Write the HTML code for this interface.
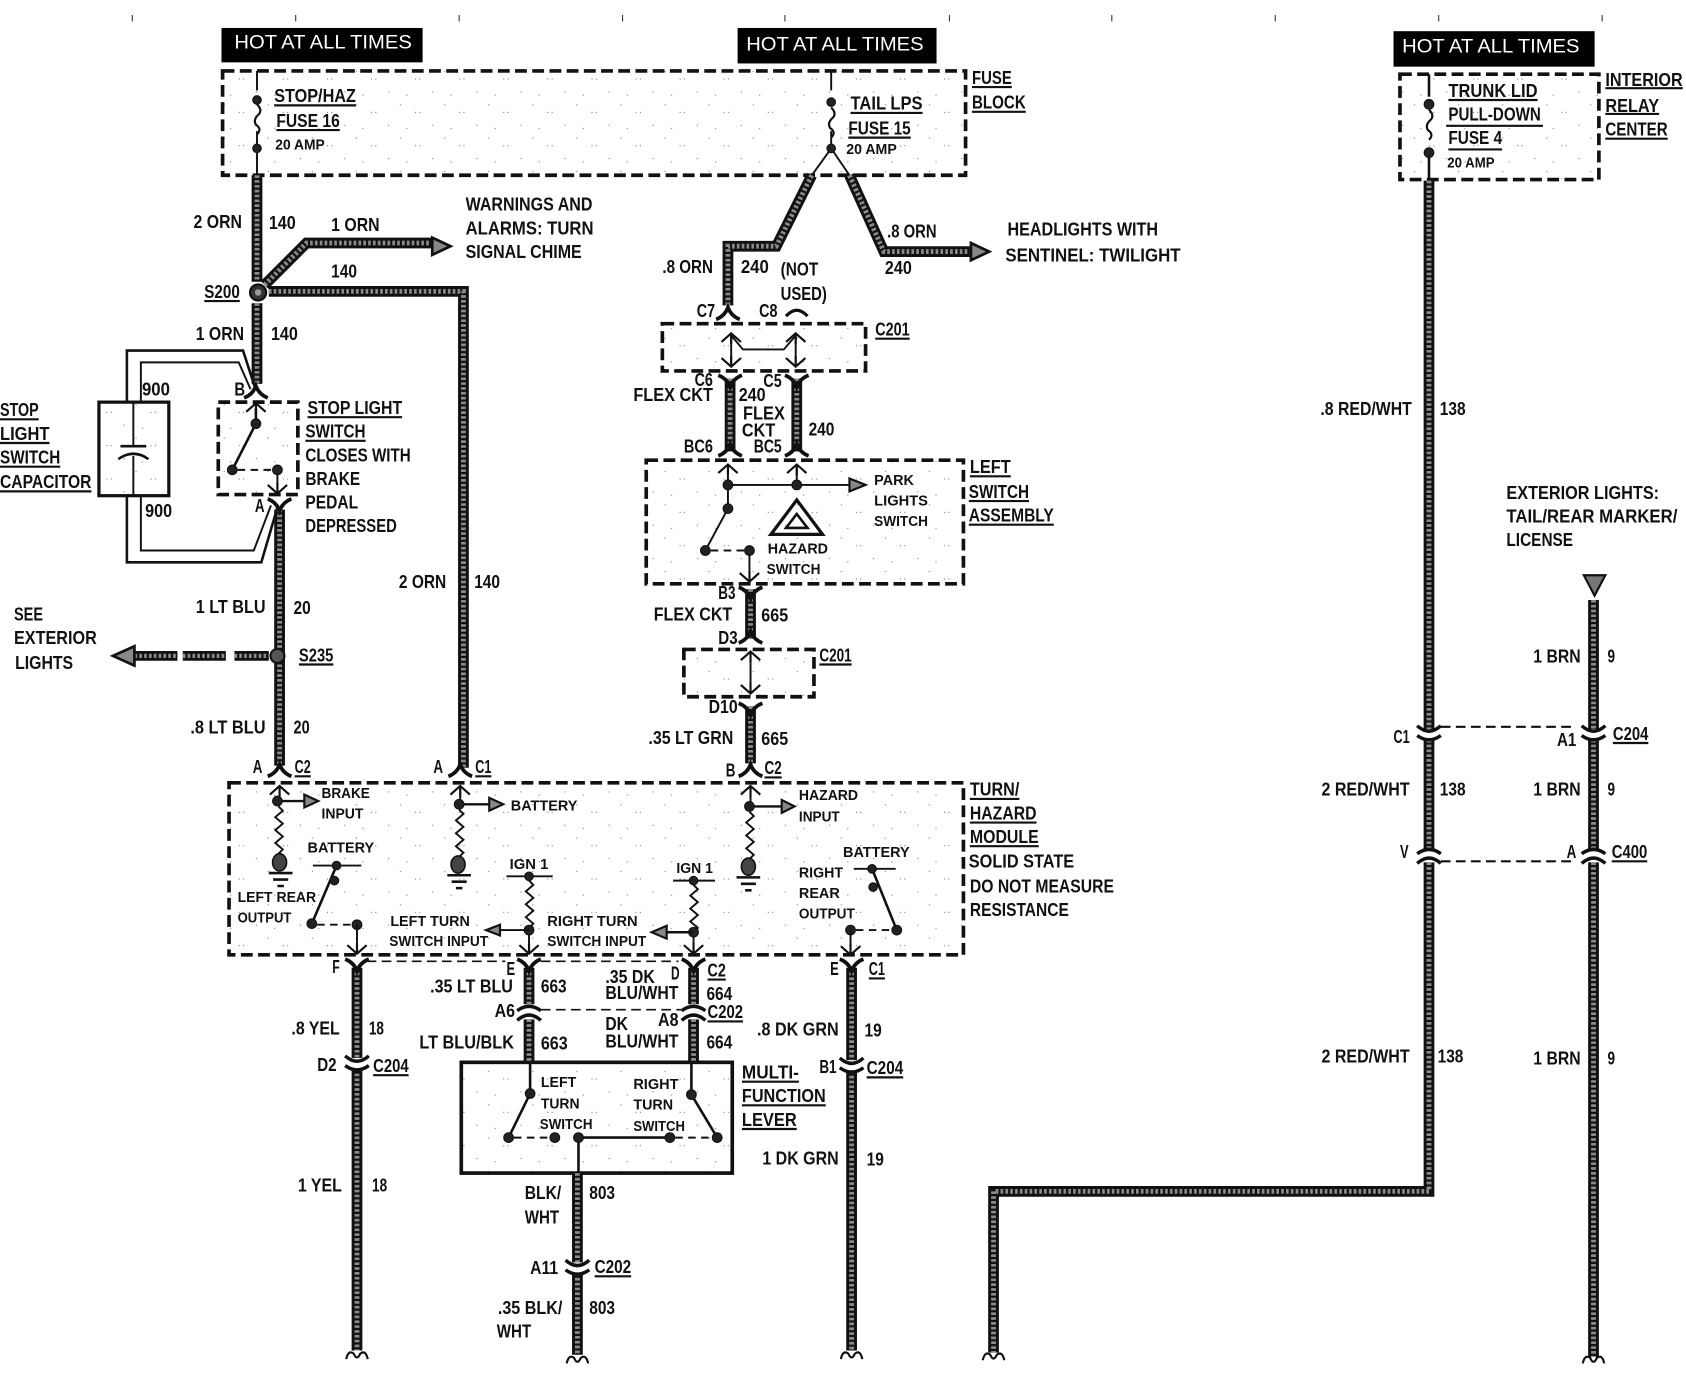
<!DOCTYPE html>
<html><head><meta charset="utf-8"><title>Turn hazard wiring diagram</title>
<style>
html,body{margin:0;padding:0;background:#fff;width:1686px;height:1392px;overflow:hidden}
svg{display:block}
text{font-family:"Liberation Sans",sans-serif;font-weight:bold;font-size:17px;fill:#111}
text.s{font-size:14px}
text.h{font-weight:normal;fill:#fff;font-size:18px}
.t{fill:none;stroke:#111;stroke-width:1.8}
.d{fill:none;stroke:#111;stroke-width:3.4;stroke-dasharray:11 5}
.k{fill:none;stroke:#111;stroke-width:2.4}
.n{fill:none;stroke:#111;stroke-width:1.5;stroke-dasharray:9 5}
.u{fill:none;stroke:#111;stroke-width:2}
.dot{fill:#222;stroke:#111;stroke-width:1}
</style></head><body>
<svg xmlns="http://www.w3.org/2000/svg" width="1686" height="1392" viewBox="0 0 1568 1294.6">
<defs>
<pattern id="sp" width="41" height="31" patternUnits="userSpaceOnUse">
<rect x="3" y="4" width="1" height="1" fill="#777"/><rect x="17" y="11" width="1" height="1" fill="#777"/><rect x="21" y="11" width="1" height="1" fill="#777"/><rect x="33" y="23" width="1" height="1" fill="#777"/><rect x="9" y="26" width="1" height="1" fill="#777"/>
</pattern>
<g id="W" fill="none">
<path d="M239 163V262"/><path d="M246 265L285 226H402"/><path d="M250 271H431V714"/><path d="M239 282V357"/>
<path d="M260 474V712"/>
<path d="M755 163L722 229H677V284"/><path d="M790 163L822 234H902"/>
<path d="M679 352V420"/><path d="M741 352V420"/><path d="M698 548V594"/><path d="M698 657V710"/>
<path d="M332 900V984"/><path d="M332 994V1256"/><path d="M492 900V934"/><path d="M492 948V988"/><path d="M645 900V934"/><path d="M645 948V988"/>
<path d="M792 900V986"/><path d="M792 996V1256"/><path d="M537 1091V1174"/><path d="M537 1184V1260"/>
<path d="M1329 168V678"/><path d="M1329 688V790"/><path d="M1329 802V1108H924V1258"/>
<path d="M1482 558V678"/><path d="M1482 688V790"/><path d="M1482 802V1262"/>
</g>
<path id="fa" d="M-11 6Q-3 3 0-5Q3 3 11 6" fill="none" stroke="#111" stroke-width="3.5"/>
<path id="fy" d="M-11-6Q-3-3 0 5Q3-3 11-6" fill="none" stroke="#111" stroke-width="3.5"/>
<path id="au" d="M-9 8L0 0L9 8M0 0V10" fill="none" stroke="#111" stroke-width="2"/>
<path id="ad" d="M-9-8L0 0L9-8M0 0V-10" fill="none" stroke="#111" stroke-width="2"/>
<g id="cd" fill="none" stroke="#111" stroke-width="3.2"><path d="M-11-7Q0 3 11-7"/><path d="M-11 2Q0 10 11 2"/></g>
<g id="cu" fill="none" stroke="#111" stroke-width="3.2"><path d="M-11 7Q0-3 11 7"/><path d="M-11-2Q0-10 11-2"/></g>
<path id="end" d="M-10 6Q-8-3-3 1Q0 8 3 1Q8-3 10 6" fill="none" stroke="#111" stroke-width="2"/>
<path id="wig" d="M0 0l4 4l-7 6l7 6l-7 6l7 6l-7 6l7 6l-4 4" fill="none" stroke="#111" stroke-width="1.8"/>
<path id="fz" d="M0 0q5 5 2 9q-6 5-3 10q6 4 1 9" fill="none" stroke="#111" stroke-width="2"/>
<g id="gnd" stroke="#111" stroke-width="2.4"><path d="M-11 0H11M-7 6H7M-3 12H3"/></g>
</defs>

<rect width="1568" height="1295" fill="#fff"/>
<path d="M123 14v6M275 14v6M427 14v6M579 14v6M730 14v6M883 14v6M1034 14v6M1186 14v6M1338 14v6M1490 14v6" stroke="#333" stroke-width="1"/>

<rect x="206" y="26" width="187" height="32" fill="#000"/>
<rect x="686" y="26" width="185" height="33" fill="#000"/>
<rect x="1296" y="29" width="187" height="33" fill="#000"/>
<text class="h" x="218" y="45" textLength="165" lengthAdjust="spacingAndGlyphs">HOT AT ALL TIMES</text>
<text class="h" x="694" y="47" textLength="165" lengthAdjust="spacingAndGlyphs">HOT AT ALL TIMES</text>
<text class="h" x="1304" y="49" textLength="165" lengthAdjust="spacingAndGlyphs">HOT AT ALL TIMES</text>

<!-- dashed boxes -->
<rect x="207" y="66" width="691" height="97" class="d" style="fill:url(#sp)"/>
<rect x="1302" y="69" width="185" height="98" class="d" style="fill:url(#sp)"/>
<rect x="203" y="374" width="74" height="86" class="d" style="fill:url(#sp)"/>
<rect x="616" y="301" width="189" height="44" class="d" style="fill:url(#sp)"/>
<rect x="601" y="428" width="295" height="115" class="d" style="fill:url(#sp)"/>
<rect x="636" y="604" width="121" height="44" class="d" style="fill:url(#sp)"/>
<rect x="213" y="728" width="683" height="160" class="d" style="fill:url(#sp)"/>
<rect x="429" y="988" width="252" height="103" fill="url(#sp)" stroke="#111" stroke-width="3.4"/>
<rect x="92" y="374" width="65" height="87" fill="url(#sp)" stroke="#111" stroke-width="3"/>

<!-- wires -->
<use href="#W" stroke="#111" stroke-width="10"/>
<use href="#W" stroke="#8a8a8a" stroke-width="4.5" stroke-dasharray="2.5 2"/>

<!-- dashed wire to S235 and arrows -->
<path d="M125 610H165M170 610H210M218 610H250" stroke="#111" stroke-width="9" fill="none"/>
<path d="M125 610H165M170 610H210M218 610H250" stroke="#8a8a8a" stroke-width="4" stroke-dasharray="2.5 2" fill="none"/>
<path d="M105 610L125 601V619Z" fill="#888" stroke="#111" stroke-width="2.5"/>
<path d="M419 229L402 221V237Z" fill="#888" stroke="#111" stroke-width="2.5"/>
<path d="M920 234L903 226V242Z" fill="#888" stroke="#111" stroke-width="2.5"/>
<path d="M1473 535H1493L1483 554Z" fill="#777" stroke="#111" stroke-width="2"/>

<!-- fuses -->
<path class="t" d="M239 66V84M239 122V163"/><use href="#fz" x="239" y="97"/>
<circle class="dot" cx="239" cy="93" r="4"/><circle class="dot" cx="239" cy="138" r="4"/>
<path class="t" d="M773 66V84M773 122V138M773 138L755 163M773 138L790 163"/><use href="#fz" x="773" y="100"/>
<circle class="dot" cx="773" cy="95" r="4"/><circle class="dot" cx="773" cy="138" r="4"/>
<path class="t" d="M1329 69V90M1329 142V167" style="stroke-width:2.4"/><use href="#fz" x="1329" y="102" /><circle class="dot" cx="1329" cy="97" r="4.5"/><circle class="dot" cx="1329" cy="142" r="4.5"/>

<circle cx="240" cy="272" r="7.5" fill="#333" stroke="#111" stroke-width="2"/><circle cx="240" cy="272" r="3" fill="#999"/>
<circle cx="258" cy="610" r="6.5" fill="#555" stroke="#111" stroke-width="2"/>

<!-- capacitor -->
<path class="k" d="M118 375V326H226L237 360"/><path class="t" d="M131 375V337H222L233 362"/>
<path class="k" d="M118 461V523H243L258 472"/><path class="t" d="M131 461V512H236L252 470"/>
<path class="t" d="M124 374V415M124 424V461"/><path class="k" d="M112 415H136" /><path class="t" d="M110 427Q124 417 138 427" style="stroke-width:2.4"/>

<!-- stop light switch -->
<use href="#fa" x="238" y="364"/><use href="#au" x="238" y="375"/>
<path class="t" d="M238 380V394L216 437" style="stroke-width:2.4"/>
<circle class="dot" cx="238" cy="394" r="4.5"/><circle class="dot" cx="216" cy="437" r="4.5"/><circle class="dot" cx="258" cy="437" r="4.5"/>
<path class="t" d="M221 437H254" stroke-dasharray="7 5"/><use href="#ad" x="258" y="459"/><path class="t" d="M258 440V459"/>
<use href="#fy" x="260" y="470"/>

<!-- C7 C8 C201 -->
<use href="#fa" x="677" y="291"/><path d="M731 294Q741 283 751 294" fill="none" stroke="#111" stroke-width="3"/>
<use href="#au" x="680" y="310"/><use href="#au" x="740" y="310"/>
<path class="t" d="M680 310V340M740 310V340M680 312L691 325H729L740 312"/><use href="#ad" x="680" y="341"/><use href="#ad" x="740" y="341"/>
<use href="#fy" x="679" y="355"/><use href="#fy" x="741" y="355"/><use href="#fa" x="679" y="418"/><use href="#fa" x="741" y="418"/>

<!-- left switch assembly -->
<use href="#au" x="677" y="432"/><use href="#au" x="741" y="432"/>
<path class="t" d="M677 432V473L656 512M741 432V451M677 451H790"/>
<path d="M790 445L805 451L790 457Z" fill="#888" stroke="#111" stroke-width="2"/>
<circle class="dot" cx="677" cy="451" r="4.5"/><circle class="dot" cx="741" cy="451" r="4.5"/><circle class="dot" cx="677" cy="473" r="4.5"/><circle class="dot" cx="656" cy="512" r="4.5"/><circle class="dot" cx="697" cy="512" r="4.5"/>
<path class="t" d="M661 512H692" stroke-dasharray="7 5"/><path class="t" d="M697 515V540"/><use href="#ad" x="697" y="541"/>
<path d="M741 465L717 497H765Z" fill="none" stroke="#111" stroke-width="3"/><path d="M741 478L731 491H751Z" fill="none" stroke="#111" stroke-width="2.4"/>

<use href="#fy" x="698" y="552"/><use href="#fa" x="698" y="592"/>
<use href="#au" x="698" y="606"/><path class="t" d="M698 606V644"/><use href="#ad" x="698" y="645"/><use href="#fy" x="698" y="660"/>

<!-- module connectors -->
<use href="#fa" x="260" y="716"/><use href="#fa" x="428" y="716"/><use href="#fa" x="698" y="716"/>
<use href="#au" x="260" y="731"/><use href="#au" x="428" y="731"/><use href="#au" x="698" y="731"/>
<path class="t" d="M260 731V745M428 731V749M698 731V750"/>
<path class="k" d="M260 745H283M428 748H455M698 750H727" style="stroke-width:2.2"/>
<path d="M283 739L296 745L283 751Z" fill="#888" stroke="#111" stroke-width="2"/>
<path d="M455 742L468 748L455 754Z" fill="#888" stroke="#111" stroke-width="2"/>
<path d="M727 744L739 750L727 756Z" fill="#888" stroke="#111" stroke-width="2"/>
<circle class="dot" cx="258" cy="745" r="4.5"/><circle class="dot" cx="427" cy="748" r="4.5"/><circle class="dot" cx="697" cy="750" r="4.5"/>
<use href="#wig" x="259" y="750"/><use href="#wig" x="427" y="753"/><use href="#wig" x="697" y="755"/>
<ellipse cx="260" cy="802" rx="6.5" ry="8" fill="#444" stroke="#111" stroke-width="1.5"/><ellipse cx="426" cy="804" rx="6.5" ry="8" fill="#444" stroke="#111" stroke-width="1.5"/><ellipse cx="696" cy="806" rx="6.5" ry="8" fill="#444" stroke="#111" stroke-width="1.5"/>
<use href="#gnd" x="261" y="812"/><use href="#gnd" x="427" y="814"/><use href="#gnd" x="696" y="816"/>

<!-- module switches -->
<path class="t" d="M291 805H336M471 815H514M626 819H665M794 808H833"/>
<path class="t" d="M313 805L290 859M811 808L834 865" style="stroke-width:2.4"/>
<circle class="dot" cx="313" cy="805" r="4"/><circle class="dot" cx="311" cy="819" r="4"/><circle class="dot" cx="290" cy="859" r="4.5"/><circle class="dot" cx="332" cy="860" r="4.5"/>
<circle class="dot" cx="811" cy="808" r="4"/><circle class="dot" cx="812" cy="825" r="4"/><circle class="dot" cx="834" cy="865" r="4.5"/><circle class="dot" cx="791" cy="865" r="4.5"/>
<path class="t" d="M295 860H328M796 865H830" stroke-dasharray="7 5"/>
<path class="t" d="M332 860V886M791 865V887M492 865V886M645 867V886"/>
<use href="#ad" x="332" y="887"/><use href="#ad" x="791" y="888"/><use href="#ad" x="492" y="887"/><use href="#ad" x="645" y="887"/>
<circle class="dot" cx="492" cy="815" r="4"/><use href="#wig" x="492" y="819"/><circle class="dot" cx="492" cy="865" r="4.5"/>
<circle class="dot" cx="645" cy="819" r="4"/><use href="#wig" x="645" y="823"/><circle class="dot" cx="645" cy="867" r="4.5"/>
<path class="t" d="M465 865H492"/><path d="M465 860L452 865L465 870Z" fill="#888" stroke="#111" stroke-width="2"/>
<path class="k" d="M620 867H645" style="stroke-width:2.4"/><path d="M620 861L606 867L620 873Z" fill="#888" stroke="#111" stroke-width="2"/>

<!-- connectors below module -->
<use href="#fy" x="332" y="898"/><use href="#fy" x="492" y="898"/><use href="#fy" x="645" y="898"/><use href="#fy" x="792" y="898"/>
<path class="n" d="M341 894H470M503 894H631M503 939H635"/>
<use href="#cu" x="492" y="942"/><use href="#cu" x="645" y="942"/>
<use href="#cd" x="332" y="989"/><use href="#cd" x="792" y="991"/><use href="#cd" x="537" y="1179"/>

<!-- multifunction -->
<path class="t" d="M493 988V1017L473 1058M643 988V1018L667 1058M538 1058H623M538 1058V1091" style="stroke-width:2.4"/>
<circle class="dot" cx="493" cy="1017" r="4.5"/><circle class="dot" cx="643" cy="1018" r="4.5"/><circle class="dot" cx="473" cy="1058" r="4.5"/><circle class="dot" cx="667" cy="1058" r="4.5"/><circle class="dot" cx="516" cy="1058" r="4.5"/><circle class="dot" cx="538" cy="1058" r="4.5"/><circle class="dot" cx="623" cy="1058" r="4.5"/>
<path class="t" d="M478 1058H511M628 1058H662" stroke-dasharray="7 5"/>

<!-- ends -->
<use href="#end" x="332" y="1258"/><use href="#end" x="792" y="1258"/><use href="#end" x="537" y="1262"/><use href="#end" x="924" y="1259"/><use href="#end" x="1482" y="1262"/>

<!-- right -->
<use href="#cd" x="1329" y="682"/><use href="#cd" x="1482" y="682"/><use href="#cu" x="1329" y="796"/><use href="#cu" x="1482" y="796"/>
<path class="n" d="M1340 676H1466M1340 801H1466" style="stroke-width:2"/>

<!-- underlines -->
<path class="u" d="M255 98h76M257 121h59M791 105h67M789 128h58M904 81h37M904 104h50M190 280h33M0 390h36M0 412h46M0 434h56M0 457h85M286 388h88M284 410h56M278 618h32M274 722h15M442 722h15M711 723h16M902 743h46M902 765h62M902 787h64M814 315h32M902 443h38M901 466h56M901 488h79M762 618h30M658 911h17M808 910h15M658 950h33M347 1000h33M806 1002h34M690 1006h53M690 1028h78M690 1050h51M553 1187h34M1347 93h83M1345 117h90M1347 139h50M1493 82h72M1493 106h50M1493 129h58M1500 691h33M1499 801h33"/>

<!-- labels -->
<text x="255" y="95" textLength="76" lengthAdjust="spacingAndGlyphs">STOP/HAZ</text>
<text x="257" y="118" textLength="59" lengthAdjust="spacingAndGlyphs">FUSE 16</text>
<text class="s" x="256" y="139" textLength="46" lengthAdjust="spacingAndGlyphs">20 AMP</text>
<text x="791" y="102" textLength="67" lengthAdjust="spacingAndGlyphs">TAIL LPS</text>
<text x="789" y="125" textLength="58" lengthAdjust="spacingAndGlyphs">FUSE 15</text>
<text class="s" x="787" y="143" textLength="47" lengthAdjust="spacingAndGlyphs">20 AMP</text>
<text x="904" y="78" textLength="37" lengthAdjust="spacingAndGlyphs">FUSE</text>
<text x="904" y="101" textLength="50" lengthAdjust="spacingAndGlyphs">BLOCK</text>
<text x="180" y="212" textLength="45" lengthAdjust="spacingAndGlyphs">2 ORN</text>
<text x="250" y="213" textLength="25" lengthAdjust="spacingAndGlyphs">140</text>
<text x="308" y="215" textLength="45" lengthAdjust="spacingAndGlyphs">1 ORN</text>
<text x="308" y="258" textLength="24" lengthAdjust="spacingAndGlyphs">140</text>
<text x="433" y="196" textLength="118" lengthAdjust="spacingAndGlyphs">WARNINGS AND</text>
<text x="433" y="218" textLength="119" lengthAdjust="spacingAndGlyphs">ALARMS:  TURN</text>
<text x="433" y="240" textLength="108" lengthAdjust="spacingAndGlyphs">SIGNAL CHIME</text>
<text x="190" y="277" textLength="33" lengthAdjust="spacingAndGlyphs">S200</text>
<text x="182" y="316" textLength="45" lengthAdjust="spacingAndGlyphs">1 ORN</text>
<text x="252" y="316" textLength="25" lengthAdjust="spacingAndGlyphs">140</text>
<text x="132" y="368" textLength="26" lengthAdjust="spacingAndGlyphs">900</text>
<text x="135" y="481" textLength="25" lengthAdjust="spacingAndGlyphs">900</text>
<text x="0" y="387" textLength="36" lengthAdjust="spacingAndGlyphs">STOP</text>
<text x="0" y="409" textLength="46" lengthAdjust="spacingAndGlyphs">LIGHT</text>
<text x="0" y="431" textLength="56" lengthAdjust="spacingAndGlyphs">SWITCH</text>
<text x="0" y="454" textLength="85" lengthAdjust="spacingAndGlyphs">CAPACITOR</text>
<text x="218" y="368" textLength="10" lengthAdjust="spacingAndGlyphs">B</text>
<text x="237" y="476" textLength="9" lengthAdjust="spacingAndGlyphs">A</text>
<text x="286" y="385" textLength="88" lengthAdjust="spacingAndGlyphs">STOP LIGHT</text>
<text x="284" y="407" textLength="56" lengthAdjust="spacingAndGlyphs">SWITCH</text>
<text x="284" y="429" textLength="98" lengthAdjust="spacingAndGlyphs">CLOSES WITH</text>
<text x="284" y="451" textLength="51" lengthAdjust="spacingAndGlyphs">BRAKE</text>
<text x="284" y="473" textLength="49" lengthAdjust="spacingAndGlyphs">PEDAL</text>
<text x="284" y="495" textLength="85" lengthAdjust="spacingAndGlyphs">DEPRESSED</text>
<text x="371" y="547" textLength="44" lengthAdjust="spacingAndGlyphs">2 ORN</text>
<text x="441" y="547" textLength="24" lengthAdjust="spacingAndGlyphs">140</text>
<text x="182" y="570" textLength="65" lengthAdjust="spacingAndGlyphs">1 LT BLU</text>
<text x="273" y="571" textLength="16" lengthAdjust="spacingAndGlyphs">20</text>
<text x="13" y="577" textLength="27" lengthAdjust="spacingAndGlyphs">SEE</text>
<text x="13" y="599" textLength="77" lengthAdjust="spacingAndGlyphs">EXTERIOR</text>
<text x="14" y="622" textLength="54" lengthAdjust="spacingAndGlyphs">LIGHTS</text>
<text x="278" y="615" textLength="32" lengthAdjust="spacingAndGlyphs">S235</text>
<text x="177" y="682" textLength="70" lengthAdjust="spacingAndGlyphs">.8 LT BLU</text>
<text x="273" y="682" textLength="15" lengthAdjust="spacingAndGlyphs">20</text>
<text x="235" y="719" textLength="9" lengthAdjust="spacingAndGlyphs">A</text>
<text x="274" y="719" textLength="15" lengthAdjust="spacingAndGlyphs">C2</text>
<text x="403" y="719" textLength="9" lengthAdjust="spacingAndGlyphs">A</text>
<text x="442" y="719" textLength="15" lengthAdjust="spacingAndGlyphs">C1</text>
<text x="675" y="722" textLength="9" lengthAdjust="spacingAndGlyphs">B</text>
<text x="711" y="720" textLength="16" lengthAdjust="spacingAndGlyphs">C2</text>
<text class="s" x="299" y="742" textLength="45" lengthAdjust="spacingAndGlyphs">BRAKE</text>
<text class="s" x="299" y="761" textLength="39" lengthAdjust="spacingAndGlyphs">INPUT</text>
<text class="s" x="475" y="754" textLength="62" lengthAdjust="spacingAndGlyphs">BATTERY</text>
<text class="s" x="743" y="744" textLength="55" lengthAdjust="spacingAndGlyphs">HAZARD</text>
<text class="s" x="743" y="764" textLength="38" lengthAdjust="spacingAndGlyphs">INPUT</text>
<text class="s" x="286" y="793" textLength="62" lengthAdjust="spacingAndGlyphs">BATTERY</text>
<text class="s" x="474" y="808" textLength="36" lengthAdjust="spacingAndGlyphs">IGN 1</text>
<text class="s" x="629" y="812" textLength="34" lengthAdjust="spacingAndGlyphs">IGN 1</text>
<text class="s" x="784" y="797" textLength="62" lengthAdjust="spacingAndGlyphs">BATTERY</text>
<text class="s" x="743" y="816" textLength="41" lengthAdjust="spacingAndGlyphs">RIGHT</text>
<text class="s" x="743" y="835" textLength="38" lengthAdjust="spacingAndGlyphs">REAR</text>
<text class="s" x="743" y="854" textLength="52" lengthAdjust="spacingAndGlyphs">OUTPUT</text>
<text class="s" x="221" y="839" textLength="73" lengthAdjust="spacingAndGlyphs">LEFT REAR</text>
<text class="s" x="221" y="858" textLength="50" lengthAdjust="spacingAndGlyphs">OUTPUT</text>
<text class="s" x="363" y="861" textLength="74" lengthAdjust="spacingAndGlyphs">LEFT TURN</text>
<text class="s" x="362" y="880" textLength="92" lengthAdjust="spacingAndGlyphs">SWITCH INPUT</text>
<text class="s" x="509" y="861" textLength="84" lengthAdjust="spacingAndGlyphs">RIGHT TURN</text>
<text class="s" x="509" y="880" textLength="92" lengthAdjust="spacingAndGlyphs">SWITCH INPUT</text>
<text x="902" y="740" textLength="46" lengthAdjust="spacingAndGlyphs">TURN/</text>
<text x="902" y="762" textLength="62" lengthAdjust="spacingAndGlyphs">HAZARD</text>
<text x="902" y="784" textLength="64" lengthAdjust="spacingAndGlyphs">MODULE</text>
<text x="901" y="807" textLength="98" lengthAdjust="spacingAndGlyphs">SOLID STATE</text>
<text x="902" y="830" textLength="134" lengthAdjust="spacingAndGlyphs">DO NOT MEASURE</text>
<text x="902" y="852" textLength="92" lengthAdjust="spacingAndGlyphs">RESISTANCE</text>
<text x="616" y="254" textLength="47" lengthAdjust="spacingAndGlyphs">.8 ORN</text>
<text x="689" y="254" textLength="26" lengthAdjust="spacingAndGlyphs">240</text>
<text x="726" y="256" textLength="35" lengthAdjust="spacingAndGlyphs">(NOT</text>
<text x="726" y="279" textLength="43" lengthAdjust="spacingAndGlyphs">USED)</text>
<text x="825" y="221" textLength="46" lengthAdjust="spacingAndGlyphs">.8 ORN</text>
<text x="823" y="255" textLength="25" lengthAdjust="spacingAndGlyphs">240</text>
<text x="937" y="219" textLength="140" lengthAdjust="spacingAndGlyphs">HEADLIGHTS WITH</text>
<text x="935" y="243" textLength="163" lengthAdjust="spacingAndGlyphs">SENTINEL:  TWILIGHT</text>
<text x="648" y="295" textLength="17" lengthAdjust="spacingAndGlyphs">C7</text>
<text x="706" y="295" textLength="17" lengthAdjust="spacingAndGlyphs">C8</text>
<text x="814" y="312" textLength="32" lengthAdjust="spacingAndGlyphs">C201</text>
<text x="646" y="359" textLength="17" lengthAdjust="spacingAndGlyphs">C6</text>
<text x="710" y="360" textLength="17" lengthAdjust="spacingAndGlyphs">C5</text>
<text x="589" y="373" textLength="74" lengthAdjust="spacingAndGlyphs">FLEX CKT</text>
<text x="687" y="373" textLength="25" lengthAdjust="spacingAndGlyphs">240</text>
<text x="691" y="390" textLength="39" lengthAdjust="spacingAndGlyphs">FLEX</text>
<text x="690" y="406" textLength="31" lengthAdjust="spacingAndGlyphs">CKT</text>
<text x="752" y="405" textLength="24" lengthAdjust="spacingAndGlyphs">240</text>
<text x="636" y="421" textLength="27" lengthAdjust="spacingAndGlyphs">BC6</text>
<text x="701" y="421" textLength="26" lengthAdjust="spacingAndGlyphs">BC5</text>
<text x="902" y="440" textLength="38" lengthAdjust="spacingAndGlyphs">LEFT</text>
<text x="901" y="463" textLength="56" lengthAdjust="spacingAndGlyphs">SWITCH</text>
<text x="901" y="485" textLength="79" lengthAdjust="spacingAndGlyphs">ASSEMBLY</text>
<text class="s" x="813" y="451" textLength="37" lengthAdjust="spacingAndGlyphs">PARK</text>
<text class="s" x="813" y="470" textLength="50" lengthAdjust="spacingAndGlyphs">LIGHTS</text>
<text class="s" x="813" y="489" textLength="50" lengthAdjust="spacingAndGlyphs">SWITCH</text>
<text class="s" x="714" y="515" textLength="56" lengthAdjust="spacingAndGlyphs">HAZARD</text>
<text class="s" x="713" y="534" textLength="50" lengthAdjust="spacingAndGlyphs">SWITCH</text>
<text x="668" y="557" textLength="16" lengthAdjust="spacingAndGlyphs">B3</text>
<text x="608" y="577" textLength="73" lengthAdjust="spacingAndGlyphs">FLEX CKT</text>
<text x="708" y="578" textLength="25" lengthAdjust="spacingAndGlyphs">665</text>
<text x="668" y="599" textLength="18" lengthAdjust="spacingAndGlyphs">D3</text>
<text x="762" y="615" textLength="30" lengthAdjust="spacingAndGlyphs">C201</text>
<text x="659" y="663" textLength="27" lengthAdjust="spacingAndGlyphs">D10</text>
<text x="603" y="692" textLength="79" lengthAdjust="spacingAndGlyphs">.35 LT GRN</text>
<text x="708" y="693" textLength="25" lengthAdjust="spacingAndGlyphs">665</text>
<text x="309" y="905" textLength="7" lengthAdjust="spacingAndGlyphs">F</text>
<text x="471" y="907" textLength="8" lengthAdjust="spacingAndGlyphs">E</text>
<text x="624" y="911" textLength="8" lengthAdjust="spacingAndGlyphs">D</text>
<text x="658" y="908" textLength="17" lengthAdjust="spacingAndGlyphs">C2</text>
<text x="772" y="907" textLength="8" lengthAdjust="spacingAndGlyphs">E</text>
<text x="808" y="907" textLength="15" lengthAdjust="spacingAndGlyphs">C1</text>
<text x="400" y="923" textLength="77" lengthAdjust="spacingAndGlyphs">.35 LT BLU</text>
<text x="503" y="923" textLength="24" lengthAdjust="spacingAndGlyphs">663</text>
<text x="563" y="914" textLength="46" lengthAdjust="spacingAndGlyphs">.35 DK</text>
<text x="563" y="929" textLength="68" lengthAdjust="spacingAndGlyphs">BLU/WHT</text>
<text x="657" y="930" textLength="24" lengthAdjust="spacingAndGlyphs">664</text>
<text x="460" y="946" textLength="19" lengthAdjust="spacingAndGlyphs">A6</text>
<text x="612" y="954" textLength="19" lengthAdjust="spacingAndGlyphs">A8</text>
<text x="658" y="947" textLength="33" lengthAdjust="spacingAndGlyphs">C202</text>
<text x="563" y="958" textLength="21" lengthAdjust="spacingAndGlyphs">DK</text>
<text x="563" y="974" textLength="68" lengthAdjust="spacingAndGlyphs">BLU/WHT</text>
<text x="390" y="975" textLength="88" lengthAdjust="spacingAndGlyphs">LT BLU/BLK</text>
<text x="503" y="976" textLength="25" lengthAdjust="spacingAndGlyphs">663</text>
<text x="657" y="975" textLength="24" lengthAdjust="spacingAndGlyphs">664</text>
<text x="271" y="962" textLength="45" lengthAdjust="spacingAndGlyphs">.8 YEL</text>
<text x="343" y="962" textLength="14" lengthAdjust="spacingAndGlyphs">18</text>
<text x="295" y="996" textLength="18" lengthAdjust="spacingAndGlyphs">D2</text>
<text x="347" y="997" textLength="33" lengthAdjust="spacingAndGlyphs">C204</text>
<text x="704" y="963" textLength="76" lengthAdjust="spacingAndGlyphs">.8 DK GRN</text>
<text x="804" y="964" textLength="16" lengthAdjust="spacingAndGlyphs">19</text>
<text x="762" y="998" textLength="16" lengthAdjust="spacingAndGlyphs">B1</text>
<text x="806" y="999" textLength="34" lengthAdjust="spacingAndGlyphs">C204</text>
<text x="690" y="1003" textLength="53" lengthAdjust="spacingAndGlyphs">MULTI-</text>
<text x="690" y="1025" textLength="78" lengthAdjust="spacingAndGlyphs">FUNCTION</text>
<text x="690" y="1047" textLength="51" lengthAdjust="spacingAndGlyphs">LEVER</text>
<text class="s" x="503" y="1011" textLength="33" lengthAdjust="spacingAndGlyphs">LEFT</text>
<text class="s" x="503" y="1031" textLength="36" lengthAdjust="spacingAndGlyphs">TURN</text>
<text class="s" x="502" y="1050" textLength="49" lengthAdjust="spacingAndGlyphs">SWITCH</text>
<text class="s" x="589" y="1013" textLength="42" lengthAdjust="spacingAndGlyphs">RIGHT</text>
<text class="s" x="589" y="1032" textLength="37" lengthAdjust="spacingAndGlyphs">TURN</text>
<text class="s" x="589" y="1052" textLength="48" lengthAdjust="spacingAndGlyphs">SWITCH</text>
<text x="277" y="1108" textLength="41" lengthAdjust="spacingAndGlyphs">1 YEL</text>
<text x="346" y="1108" textLength="14" lengthAdjust="spacingAndGlyphs">18</text>
<text x="709" y="1083" textLength="71" lengthAdjust="spacingAndGlyphs">1 DK GRN</text>
<text x="806" y="1084" textLength="16" lengthAdjust="spacingAndGlyphs">19</text>
<text x="488" y="1115" textLength="34" lengthAdjust="spacingAndGlyphs">BLK/</text>
<text x="488" y="1138" textLength="32" lengthAdjust="spacingAndGlyphs">WHT</text>
<text x="548" y="1115" textLength="24" lengthAdjust="spacingAndGlyphs">803</text>
<text x="493" y="1185" textLength="26" lengthAdjust="spacingAndGlyphs">A11</text>
<text x="553" y="1184" textLength="34" lengthAdjust="spacingAndGlyphs">C202</text>
<text x="463" y="1222" textLength="60" lengthAdjust="spacingAndGlyphs">.35 BLK/</text>
<text x="462" y="1244" textLength="32" lengthAdjust="spacingAndGlyphs">WHT</text>
<text x="548" y="1222" textLength="24" lengthAdjust="spacingAndGlyphs">803</text>
<text x="1347" y="90" textLength="83" lengthAdjust="spacingAndGlyphs">TRUNK LID</text>
<text x="1347" y="112" textLength="86" lengthAdjust="spacingAndGlyphs">PULL-DOWN</text>
<text x="1347" y="134" textLength="50" lengthAdjust="spacingAndGlyphs">FUSE 4</text>
<text class="s" x="1346" y="156" textLength="44" lengthAdjust="spacingAndGlyphs">20 AMP</text>
<text x="1493" y="80" textLength="72" lengthAdjust="spacingAndGlyphs">INTERIOR</text>
<text x="1493" y="104" textLength="50" lengthAdjust="spacingAndGlyphs">RELAY</text>
<text x="1493" y="126" textLength="58" lengthAdjust="spacingAndGlyphs">CENTER</text>
<text x="1228" y="386" textLength="85" lengthAdjust="spacingAndGlyphs">.8 RED/WHT</text>
<text x="1339" y="386" textLength="24" lengthAdjust="spacingAndGlyphs">138</text>
<text x="1296" y="691" textLength="15" lengthAdjust="spacingAndGlyphs">C1</text>
<text x="1229" y="740" textLength="82" lengthAdjust="spacingAndGlyphs">2 RED/WHT</text>
<text x="1339" y="740" textLength="24" lengthAdjust="spacingAndGlyphs">138</text>
<text x="1302" y="798" textLength="8" lengthAdjust="spacingAndGlyphs">V</text>
<text x="1426" y="616" textLength="44" lengthAdjust="spacingAndGlyphs">1 BRN</text>
<text x="1495" y="616" textLength="7" lengthAdjust="spacingAndGlyphs">9</text>
<text x="1448" y="694" textLength="18" lengthAdjust="spacingAndGlyphs">A1</text>
<text x="1500" y="688" textLength="33" lengthAdjust="spacingAndGlyphs">C204</text>
<text x="1426" y="740" textLength="44" lengthAdjust="spacingAndGlyphs">1 BRN</text>
<text x="1495" y="740" textLength="7" lengthAdjust="spacingAndGlyphs">9</text>
<text x="1457" y="798" textLength="9" lengthAdjust="spacingAndGlyphs">A</text>
<text x="1499" y="798" textLength="33" lengthAdjust="spacingAndGlyphs">C400</text>
<text x="1229" y="988" textLength="82" lengthAdjust="spacingAndGlyphs">2 RED/WHT</text>
<text x="1337" y="988" textLength="24" lengthAdjust="spacingAndGlyphs">138</text>
<text x="1426" y="990" textLength="44" lengthAdjust="spacingAndGlyphs">1 BRN</text>
<text x="1495" y="990" textLength="7" lengthAdjust="spacingAndGlyphs">9</text>
<text x="1401" y="464" textLength="142" lengthAdjust="spacingAndGlyphs">EXTERIOR LIGHTS:</text>
<text x="1401" y="486" textLength="159" lengthAdjust="spacingAndGlyphs">TAIL/REAR MARKER/</text>
<text x="1401" y="508" textLength="62" lengthAdjust="spacingAndGlyphs">LICENSE</text>
</svg>
</body></html>
